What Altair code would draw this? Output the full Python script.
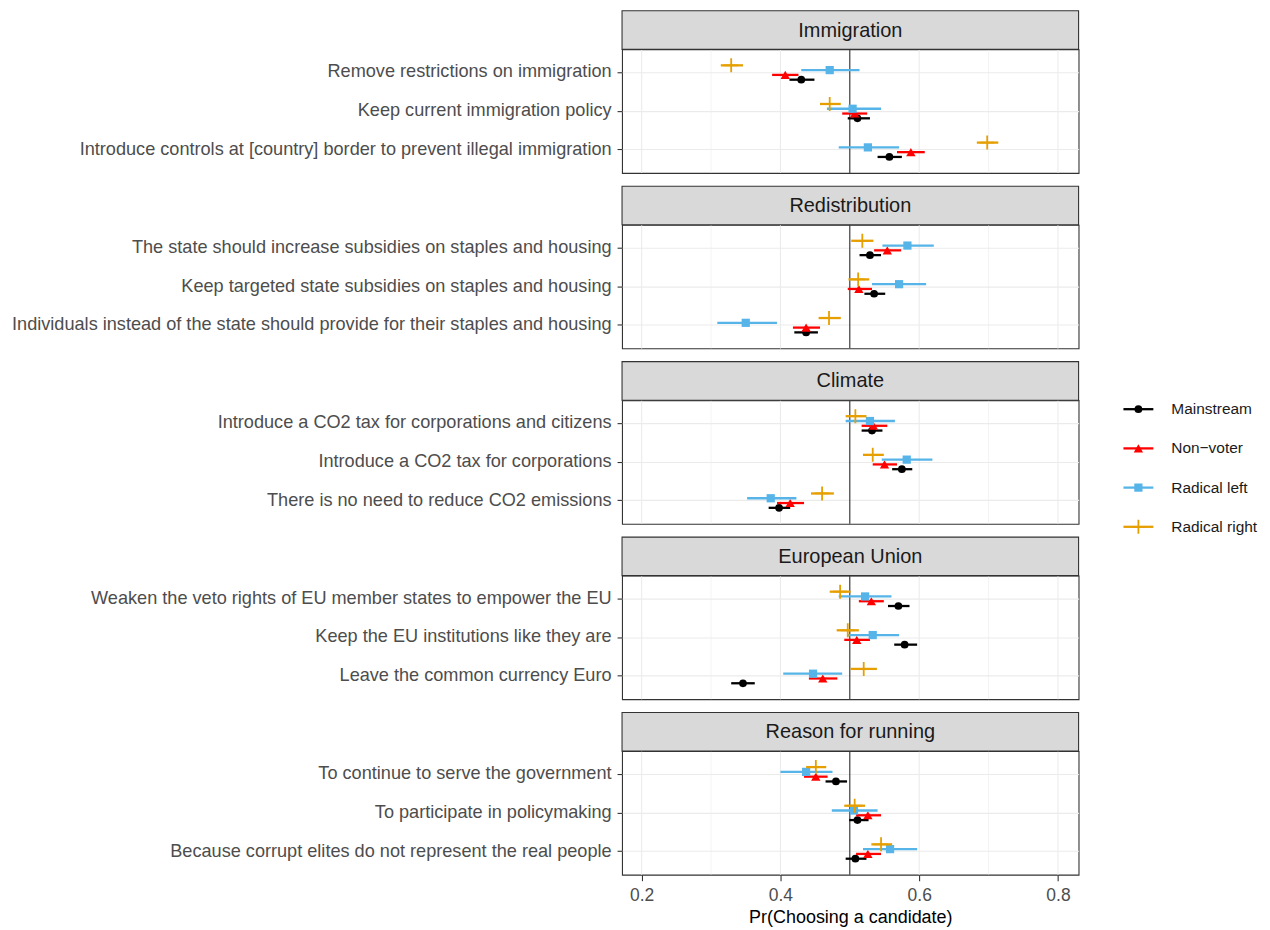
import altair as alt
import pandas as pd

TOPICS = ["Immigration", "Redistribution", "Climate", "European Union", "Reason for running"]

ITEMS = [
    "Remove restrictions on immigration",
    "Keep current immigration policy",
    "Introduce controls at [country] border to prevent illegal immigration",
    "The state should increase subsidies on staples and housing",
    "Keep targeted state subsidies on staples and housing",
    "Individuals instead of the state should provide for their staples and housing",
    "Introduce a CO2 tax for corporations and citizens",
    "Introduce a CO2 tax for corporations",
    "There is no need to reduce CO2 emissions",
    "Weaken the veto rights of EU member states to empower the EU",
    "Keep the EU institutions like they are",
    "Leave the common currency Euro",
    "To continue to serve the government",
    "To participate in policymaking",
    "Because corrupt elites do not represent the real people",
]
ITEM_TOPIC = [t for t in TOPICS for _ in range(3)]

GROUPS = ["Mainstream", "Non\u2212voter", "Radical left", "Radical right"]
COLORS = ["#000000", "#FF0000", "#56B4E9", "#E69F00"]
DODGE_ORDER = ["Radical right", "Radical left", "Non\u2212voter", "Mainstream"]

MS_EST = [0.430, 0.511, 0.557, 0.529, 0.535, 0.437, 0.532, 0.575, 0.398, 0.570, 0.579, 0.346, 0.480, 0.511, 0.508]
MS_LO = [0.413, 0.497, 0.540, 0.514, 0.521, 0.420, 0.517, 0.561, 0.383, 0.555, 0.564, 0.329, 0.465, 0.499, 0.494]
MS_HI = [0.449, 0.529, 0.575, 0.545, 0.551, 0.454, 0.547, 0.590, 0.414, 0.586, 0.597, 0.363, 0.496, 0.527, 0.524]

NV_EST = [0.407, 0.507, 0.588, 0.554, 0.513, 0.437, 0.534, 0.550, 0.414, 0.531, 0.510, 0.461, 0.451, 0.526, 0.526]
NV_LO = [0.388, 0.489, 0.568, 0.535, 0.497, 0.418, 0.517, 0.533, 0.395, 0.513, 0.492, 0.441, 0.434, 0.509, 0.509]
NV_HI = [0.426, 0.525, 0.608, 0.574, 0.532, 0.457, 0.554, 0.568, 0.434, 0.549, 0.529, 0.482, 0.468, 0.545, 0.545]

RL_EST = [0.471, 0.504, 0.526, 0.583, 0.571, 0.350, 0.529, 0.582, 0.386, 0.522, 0.533, 0.447, 0.437, 0.506, 0.558]
RL_LO = [0.430, 0.467, 0.484, 0.547, 0.532, 0.309, 0.494, 0.546, 0.352, 0.484, 0.497, 0.404, 0.400, 0.474, 0.519]
RL_HI = [0.514, 0.545, 0.571, 0.621, 0.610, 0.395, 0.565, 0.619, 0.423, 0.560, 0.571, 0.489, 0.475, 0.540, 0.597]

RR_EST = [0.329, 0.471, 0.698, 0.518, 0.512, 0.470, 0.508, 0.533, 0.460, 0.486, 0.497, 0.520, 0.451, 0.507, 0.545]
RR_LO = [0.314, 0.457, 0.683, 0.502, 0.498, 0.455, 0.494, 0.519, 0.444, 0.471, 0.481, 0.501, 0.437, 0.492, 0.531]
RR_HI = [0.346, 0.487, 0.714, 0.534, 0.528, 0.487, 0.524, 0.549, 0.477, 0.501, 0.513, 0.539, 0.466, 0.522, 0.561]

X_MAJOR = [0.2, 0.4, 0.6, 0.8]
X_MINOR = [0.3, 0.5, 0.7]
REF_X = [0.5]

SERIES = {
    "Mainstream": (MS_EST, MS_LO, MS_HI),
    "Non\u2212voter": (NV_EST, NV_LO, NV_HI),
    "Radical left": (RL_EST, RL_LO, RL_HI),
    "Radical right": (RR_EST, RR_LO, RR_HI),
}

rows = []
for g in GROUPS:
    est, lo, hi = SERIES[g]
    for t, it, e, l, h in zip(ITEM_TOPIC, ITEMS, est, lo, hi):
        rows.append({"topic": t, "item": it, "group": g, "est": e, "lo": l, "hi": h})
df = pd.DataFrame(rows)

# ---- styling ----
FONT = "Liberation Sans"
W = 458
PANEL_H = 124
STRIP_H = 38.7
SPACING = 10
XDOM = [0.1717, 0.8297]
YLAB_FS = 18.2
XLAB_FS = 17.5
CROSS = "M-1,0H1M0,-1V1"
MARKS = {
    "Mainstream": ("circle", 60, True),
    "Non\u2212voter": ("triangle-up", 88, True),
    "Radical left": ("square", 68, True),
    "Radical right": (CROSS, 196, False),
}
COLOR_OF = dict(zip(GROUPS, COLORS))
STEP = PANEL_H / 3.2
DODGE_RANGE = [STEP / 2 - 9.6, STEP / 2 + 9.6]

x_scale = alt.Scale(domain=XDOM, nice=False, zero=False)


def x_axis(last):
    if last:
        return alt.Axis(
            title="Pr(Choosing a candidate)",
            values=X_MAJOR,
            format=".1f",
            grid=False,
            domain=False,
            labelFontSize=XLAB_FS,
            labelColor="#4D4D4D",
            labelPadding=6,
            tickColor="#333333",
            tickSize=6,
            tickWidth=1.1,
            titleFontSize=18,
            titleFontWeight="normal",
            titleColor="#000000",
            titlePadding=4,
        )
    return None


def panel(topic, last):
    items = [it for it, t in zip(ITEMS, ITEM_TOPIC) if t == topic]
    sub = df[df["topic"] == topic]
    y = alt.Y(
        "item:N",
        scale=alt.Scale(domain=items, paddingInner=0, paddingOuter=0.1),
        axis=alt.Axis(
            title=None,
            labelFontSize=YLAB_FS,
            labelColor="#4D4D4D",
            labelLimit=900,
            labelPadding=6,
            tickColor="#333333",
            tickSize=5,
            tickWidth=1.1,
            domain=False,
            grid=True,
            gridColor="#EBEBEB",
            gridWidth=1.1,
            minExtent=615,
        ),
        sort=items,
    )
    yoff = alt.YOffset(
        "group:N",
        scale=alt.Scale(domain=DODGE_ORDER, paddingInner=0, paddingOuter=0, range=DODGE_RANGE),
    )
    xa = x_axis(last)
    layers = [
        alt.Chart(pd.DataFrame({"tick": X_MAJOR}))
        .mark_rule(color="#EBEBEB", strokeWidth=1.1)
        .encode(x=alt.X("tick:Q", scale=x_scale, axis=xa)),
        alt.Chart(pd.DataFrame({"tick": X_MINOR}))
        .mark_rule(color="#EBEBEB", strokeWidth=0.6)
        .encode(x=alt.X("tick:Q", scale=x_scale, axis=xa)),
        alt.Chart(pd.DataFrame({"ref": REF_X}))
        .mark_rule(color="#000000", strokeWidth=0.9)
        .encode(x=alt.X("ref:Q", scale=x_scale, axis=xa)),
    ]
    base = alt.Chart(sub)
    for g in GROUPS:
        shape, size, filled = MARKS[g]
        c = COLOR_OF[g]
        bg = base.transform_filter(alt.datum.group == g)
        layers.append(
            bg.mark_rule(color=c, strokeWidth=2.3).encode(
                x=alt.X("lo:Q", scale=x_scale, axis=xa),
                x2="hi:Q",
                y=y,
                yOffset=yoff,
            )
        )
        pt = bg.mark_point(
            shape=shape,
            size=size,
            filled=filled,
            color=c,
            opacity=1,
            strokeWidth=0 if filled else 1.8,
        )
        layers.append(
            pt.encode(x=alt.X("est:Q", scale=x_scale, axis=xa), y=y, yOffset=yoff)
        )
    # facet strip drawn just above the plot area
    d = pd.DataFrame({"topic": [topic]})
    layers.append(
        alt.Chart(d)
        .mark_rect(fill="#D9D9D9", stroke="#333333", strokeWidth=1.1, clip=False)
        .encode(x=alt.value(0), x2=alt.value(W), y=alt.value(-STRIP_H), y2=alt.value(0))
    )
    layers.append(
        alt.Chart(d)
        .mark_text(fontSize=20, color="#1A1A1A", baseline="middle", align="center")
        .encode(x=alt.value(W / 2), y=alt.value(-STRIP_H / 2 + 0.5), text="topic:N")
    )
    return alt.layer(*layers).properties(width=W, height=PANEL_H)


panels = [panel(t, i == len(TOPICS) - 1) for i, t in enumerate(TOPICS)]
main = alt.vconcat(*panels, spacing=SPACING)

# ---- legend ----
leg_df = pd.DataFrame({"group": GROUPS})
ly = alt.Y(
    "group:N",
    scale=alt.Scale(type="point", domain=GROUPS, range=[361, 479], padding=0),
    axis=None,
)
leg_layers = []
for g in GROUPS:
    shape, size, filled = MARKS[g]
    c = COLOR_OF[g]
    lg = alt.Chart(leg_df).transform_filter(alt.datum.group == g)
    leg_layers.append(
        lg.mark_rule(color=c, strokeWidth=2.3).encode(
            x=alt.value(22), x2=alt.value(52), y=ly
        )
    )
    leg_layers.append(
        lg.mark_point(
            shape=shape,
            size=size,
            filled=filled,
            color=c,
            opacity=1,
            strokeWidth=0 if filled else 1.8,
        ).encode(x=alt.value(37), y=ly)
    )
leg_layers.append(
    alt.Chart(leg_df)
    .mark_text(align="left", baseline="middle", fontSize=15.5, color="#1A1A1A")
    .encode(x=alt.value(70), y=ly, text="group:N")
)
legend = alt.layer(*leg_layers).properties(
    width=160, height=600, view=alt.ViewBackground(stroke="transparent")
)

chart = (
    alt.hconcat(main, legend, spacing=20)
    .properties(padding=0)
    .configure(font=FONT)
    .configure_view(stroke="#333333", strokeWidth=1.1)
)

chart.save("out.html", embed_options={"renderer": "svg", "actions": False})
